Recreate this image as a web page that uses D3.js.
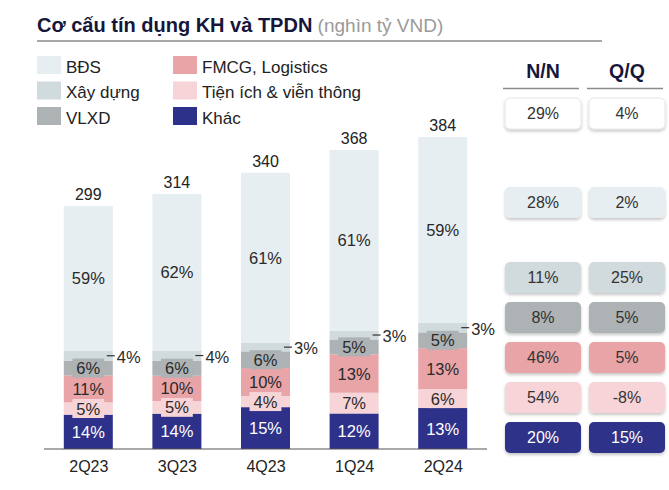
<!DOCTYPE html>
<html>
<head>
<meta charset="utf-8">
<script src="https://cdn.jsdelivr.net/npm/d3@7"></script>
<style>
  html, body { margin: 0; padding: 0; background: #ffffff; }
  svg { display: block; font-family: "Liberation Sans", Arial, Helvetica, sans-serif; }
</style>
</head>
<body>
<svg id="chart" width="669" height="490"></svg>
<script>
// ---------------- DATA ----------------
const quarters = ["2Q23", "3Q23", "4Q23", "1Q24", "2Q24"];
const totals   = [299, 314, 340, 368, 384];
const seriesNames = ["BĐS", "Xây dựng", "VLXD", "FMCG, Logistics", "Tiện ích & viễn thông", "Khác"];
const bds      = [59, 62, 61, 61, 59];
const xayDung  = [4, 4, 3, 3, 3];
const vlxd     = [6, 6, 6, 5, 5];
const fmcg     = [11, 10, 10, 13, 13];
const tienIch  = [5, 5, 4, 7, 6];
const khac     = [14, 14, 15, 12, 13];
const tableHeaders = ["N/N", "Q/Q"];
const yoy = [29, 28, 11, 8, 46, 54, 20];   // total, BĐS, XD, VLXD, FMCG, TI, Khác
const qoq = [4, 2, 25, 5, 5, -8, 15];

// ---------------- STYLE / LAYOUT ----------------
const colors = {
  "BĐS": "#e7eef1",
  "Xây dựng": "#d1dadd",
  "VLXD": "#adb2b4",
  "FMCG, Logistics": "#e9a4a8",
  "Tiện ích & viễn thông": "#f6d4d7",
  "Khác": "#2e3189"
};
const seriesData = {
  "BĐS": bds, "Xây dựng": xayDung, "VLXD": vlxd,
  "FMCG, Logistics": fmcg, "Tiện ích & viễn thông": tienIch, "Khác": khac
};
const stackOrder = ["Khác", "Tiện ích & viễn thông", "FMCG, Logistics", "VLXD", "Xây dựng", "BĐS"];

const svg = d3.select("#chart");
const axisY = 449;
const barW = 49;

const x = d3.scalePoint().domain(quarters).range([44, 487]).padding(0.5);
const y = d3.scaleLinear().domain([0, 400]).range([axisY, axisY - 325]);

// ---------------- TITLE ----------------
const title = svg.append("text").attr("x", 37).attr("y", 32);
title.append("tspan").attr("font-weight", "bold").attr("font-size", 20).attr("fill", "#16163a").text("Cơ cấu tín dụng KH và TPDN");
title.append("tspan").attr("fill", "#9a9a9a").attr("font-size", 19).text(" (nghìn tỷ VND)");
svg.append("line").attr("x1", 37).attr("x2", 602).attr("y1", 41).attr("y2", 41)
  .attr("stroke", "#8a8a8a").attr("stroke-width", 1.3);

// ---------------- LEGEND ----------------
const legendPos = [
  [37, 0], [37, 1], [37, 2], [173, 0], [173, 1], [173, 2]
];
seriesNames.forEach((name, i) => {
  const [lx, row] = legendPos[i];
  const ly = 56 + row * 25.5;
  svg.append("rect").attr("x", lx).attr("y", ly).attr("width", 24).attr("height", 18)
    .attr("fill", colors[name]);
  svg.append("text").attr("x", lx + 29).attr("y", ly + 16.5)
    .attr("font-size", 17).attr("fill", "#222").text(name);
});

// ---------------- BARS ----------------
const rows = quarters.map((q, i) => {
  const r = { q, total: totals[i] };
  const sumPct = stackOrder.reduce((s, k) => s + seriesData[k][i], 0);
  stackOrder.forEach(k => { r[k] = totals[i] * seriesData[k][i] / sumPct; r[k + "_pct"] = seriesData[k][i]; });
  return r;
});
const stack = d3.stack().keys(stackOrder)(rows);

const gBars = svg.append("g");
stack.forEach(layer => {
  gBars.selectAll(null).data(layer).enter().append("rect")
    .attr("x", d => x(d.data.q) - barW / 2)
    .attr("width", barW)
    .attr("y", d => y(d[1]))
    .attr("height", d => y(d[0]) - y(d[1]))
    .attr("fill", colors[layer.key]);
});

// labels inside bars (with colored backing boxes)
const gLab = svg.append("g");
stack.forEach(layer => {
  if (layer.key === "Xây dựng") return;
  layer.forEach(d => {
    const cx = x(d.data.q);
    const cy = (y(d[0]) + y(d[1])) / 2;
    const label = d.data[layer.key + "_pct"] + "%";
    const t = gLab.append("text").attr("x", cx).attr("y", cy + 6)
      .attr("text-anchor", "middle").attr("font-size", 16.5)
      .attr("fill", layer.key === "Khác" ? "#ffffff" : "#2a2a2a").text(label);
    const w = t.node().getComputedTextLength();
    gLab.insert("rect", function () { return t.node(); })
      .attr("x", cx - w / 2 - 4).attr("y", cy - 9.5).attr("width", w + 8).attr("height", 19)
      .attr("fill", colors[layer.key]);
  });
});

// Xây dựng labels outside with leader line
const xdLayer = stack.find(l => l.key === "Xây dựng");
xdLayer.forEach(d => {
  const right = x(d.data.q) + barW / 2;
  const cy = (y(d[0]) + y(d[1])) / 2;
  svg.append("line").attr("x1", right - 6).attr("x2", right + 2).attr("y1", cy).attr("y2", cy)
    .attr("stroke", "#333").attr("stroke-width", 1.2);
  svg.append("text").attr("x", right + 4).attr("y", cy + 7)
    .attr("font-size", 16.5).attr("fill", "#2a2a2a").text(d.data["Xây dựng_pct"] + "%");
});

// totals above bars
const lastLayer = stack[stack.length - 1];
svg.selectAll(".tot").data(lastLayer).enter().append("text")
  .attr("x", d => x(d.data.q)).attr("y", d => y(d[1]) - 6)
  .attr("text-anchor", "middle").attr("font-size", 16).attr("fill", "#222")
  .text(d => d.data.total);

// x axis
const xAxis = d3.axisBottom(x).tickSize(0).tickPadding(12);
const gx = svg.append("g").attr("transform", `translate(0,${axisY})`).call(xAxis);
gx.select(".domain").attr("stroke", "#555").attr("stroke-width", 1.2)
  .attr("d", `M44,0H487`);
gx.selectAll("text").attr("font-size", 16).attr("fill", "#222")
  .attr("font-family", "'Liberation Sans', Arial, sans-serif");

// ---------------- TABLE ----------------
const defs = svg.append("defs");
const f = defs.append("filter").attr("id", "sh").attr("x", "-20%").attr("y", "-20%")
  .attr("width", "140%").attr("height", "160%");
f.append("feDropShadow").attr("dx", 0).attr("dy", 2).attr("stdDeviation", 1.6)
  .attr("flood-color", "#000").attr("flood-opacity", 0.22);

const colX = [[505, 581], [589, 665]];
tableHeaders.forEach((h, j) => {
  const cx = (colX[j][0] + colX[j][1]) / 2;
  svg.append("text").attr("x", cx).attr("y", 78).attr("text-anchor", "middle")
    .attr("font-size", 19.5).attr("font-weight", "bold").attr("fill", "#16163a").text(h);
  svg.append("line").attr("x1", colX[j][0] - 2).attr("x2", colX[j][1] - 2)
    .attr("y1", 88.5).attr("y2", 88.5).attr("stroke", "#8a8a8a").attr("stroke-width", 1.5);
});

const rowKeys = ["total", "BĐS", "Xây dựng", "VLXD", "FMCG, Logistics", "Tiện ích & viễn thông", "Khác"];
const rowTop = [98, 187, 262, 302, 342, 382, 422];
const cellH = 31;
[yoy, qoq].forEach((vals, j) => {
  vals.forEach((v, i) => {
    const key = rowKeys[i];
    const fill = key === "total" ? "#ffffff" : colors[key];
    svg.append("rect").attr("x", colX[j][0]).attr("y", rowTop[i])
      .attr("width", colX[j][1] - colX[j][0]).attr("height", cellH)
      .attr("rx", 5).attr("ry", 5).attr("fill", fill)
      .attr("stroke", key === "total" ? "#e6e6e6" : "none")
      .attr("filter", "url(#sh)");
    svg.append("text").attr("x", (colX[j][0] + colX[j][1]) / 2).attr("y", rowTop[i] + cellH / 2 + 5.5)
      .attr("text-anchor", "middle").attr("font-size", 16)
      .attr("fill", key === "Khác" ? "#ffffff" : "#333").text(v + "%");
  });
});
</script>
</body>
</html>
